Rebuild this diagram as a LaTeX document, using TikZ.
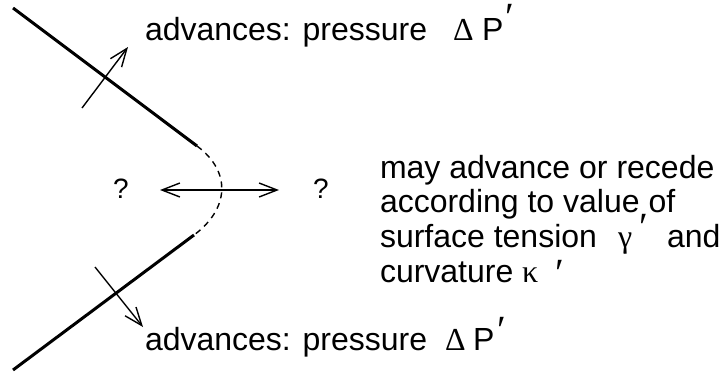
\documentclass[tikz,border=0pt]{standalone}
\usepackage{fontspec}
\setmainfont{Liberation Sans}
\newfontfamily\grk{Liberation Serif}
\usetikzlibrary{arrows.meta}
\begin{document}
\begin{tikzpicture}[x=1pt,y=-1pt,
  lbl/.style={inner sep=0pt,outer sep=0pt,anchor=base west,font=\fontsize{32}{38}\selectfont},
  glbl/.style={lbl,font=\fontsize{32}{38}\selectfont\grk},
  plbl/.style={lbl,font=\fontsize{40}{44}\selectfont\grk},
  qm/.style={inner sep=0pt,outer sep=0pt,font=\fontsize{28}{34}\selectfont},
  front/.style={line width=3pt},
  trial/.style={line width=1.4pt,dash pattern=on 6pt off 5pt},
  arr/.style={line width=1.4pt,-{Straight Barb[length=18pt,width=14pt]}},
  darr/.style={line width=1.4pt,{Straight Barb[length=18pt,width=14pt]}-{Straight Barb[length=18pt,width=14pt]}}]
\useasboundingbox (0,0) rectangle (725,372);
% front
\coordinate (ua) at (13,8);
\coordinate (ub) at (197,146);
\coordinate (lb) at (194,235);
\coordinate (la) at (13,370);
\draw[front] (ua) -- (ub);
\draw[front] (lb) -- (la);
\draw[trial] (ub) .. controls (232,172) and (229,209) .. (lb);
% normal arrows
\coordinate (n1s) at (82,108);
\coordinate (n1e) at (128,47);
\coordinate (n2s) at (95,267);
\coordinate (n2e) at (143,327);
\draw[arr] (n1s) -- (n1e);
\draw[arr] (n2s) -- (n2e);
% question marks
\node[qm] (ql) at (121,189) {?};
\node[qm] (qr) at (321,189) {?};
\coordinate (hl) at (160,190);
\coordinate (hr) at (279,190);
\draw[darr] (hl) -- (hr);
% top label
\node[lbl] (t1) at (145,40) {advances: pressure};
\node[glbl] (t1D) at (453,40) {Δ};
\node[lbl] (t1P) at (482,40) {P};
\node[plbl] (t1p) at (505,30) {′};
% bottom label
\node[lbl] (t2) at (145,350) {advances: pressure};
\node[glbl] (t2D) at (445,350) {Δ};
\node[lbl] (t2P) at (473,350) {P};
\node[plbl] (t2p) at (497,343) {′};
% right block
\node[lbl] (r1) at (380,178) {may advance or recede};
\node[lbl] (r2) at (380,212) {according to value of};
\node[lbl] (r3) at (380,247) {surface tension};
\node[glbl] (r3g) at (618,247) {γ};
\node[plbl] (r3p) at (639,240) {′};
\node[lbl] (r3a) at (667,247) {and};
\node[lbl] (r4) at (380,282) {curvature};
\node[glbl] (r4k) at (522,282) {κ};
\node[plbl] (r4p) at (555,286) {′};
\end{tikzpicture}
\end{document}
